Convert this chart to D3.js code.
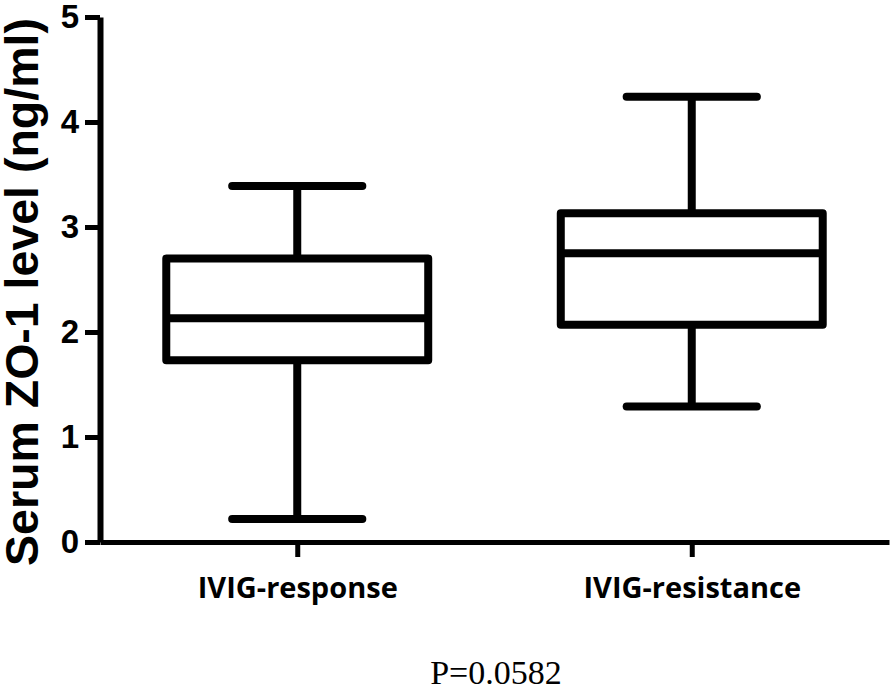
<!DOCTYPE html>
<html>
<head>
<meta charset="utf-8">
<script src="https://cdn.jsdelivr.net/npm/d3@7"></script>
<style>
  body { margin: 0; background: #fff; }
  svg { display: block; }
</style>
</head>
<body>
<div id="chart"></div>
<script>
// box summaries
const groups = ['IVIG-response', 'IVIG-resistance'];
const whiskerLow = [0.22, 1.29];
const q1 = [1.73, 2.07];
const medians = [2.13, 2.75];
const q3 = [2.70, 3.13];
const whiskerHigh = [3.39, 4.24];
const yTicks = [0, 1, 2, 3, 4, 5];
const pText = 'P=0.0582';

const W = 894, H = 689;
const svg = d3.select('#chart').append('svg')
    .attr('width', W)
    .attr('height', H);

const x = d3.scalePoint()
    .domain(groups)
    .range([100, 889])
    .padding(0.5);

const y = d3.scaleLinear()
    .domain([0, 5])
    .range([542, 17]);

const step = x.step();
const boxW = step * 0.664;
const capW = step * 0.33;

// y axis
const yAxis = svg.append('g')
    .attr('transform', 'translate(100,0)')
    .call(d3.axisLeft(y).tickValues(yTicks).tickSize(15).tickSizeOuter(0).tickPadding(6).tickFormat(d3.format('d')));
yAxis.select('.domain').attr('stroke-width', 6).attr('stroke', '#000');
yAxis.selectAll('.tick line').attr('stroke-width', 5).attr('stroke', '#000');
yAxis.selectAll('.tick text')
    .attr('font-family', 'Arial, "Liberation Sans", sans-serif')
    .attr('font-weight', 'bold')
    .attr('font-size', 33)
    .attr('fill', '#000');

// x axis
const xAxis = svg.append('g')
    .attr('transform', 'translate(0,542)')
    .call(d3.axisBottom(x).tickSize(15).tickSizeOuter(0).tickPadding(20));
xAxis.select('.domain').attr('stroke-width', 5).attr('stroke', '#000');
xAxis.selectAll('.tick line').attr('stroke-width', 5).attr('stroke', '#000');
xAxis.selectAll('.tick text')
    .attr('font-family', '"Open Sans", sans-serif')
    .attr('font-weight', 'bold')
    .attr('font-size', 29)
    .attr('fill', '#000');

// boxes
const data = groups.map((g, i) => ({
    g: g, lo: whiskerLow[i], q1: q1[i], med: medians[i], q3: q3[i], hi: whiskerHigh[i]
}));

const boxes = svg.append('g')
    .attr('stroke', '#000')
    .attr('stroke-width', 8)
    .attr('fill', 'none')
    .attr('stroke-linecap', 'round')
    .attr('stroke-linejoin', 'round')
    .selectAll('g')
    .data(data)
    .join('g');

// whisker stems
boxes.append('line')
    .attr('x1', d => x(d.g)).attr('x2', d => x(d.g))
    .attr('y1', d => y(d.hi)).attr('y2', d => y(d.q3))
    .attr('stroke-linecap', 'butt');
boxes.append('line')
    .attr('x1', d => x(d.g)).attr('x2', d => x(d.g))
    .attr('y1', d => y(d.q1)).attr('y2', d => y(d.lo))
    .attr('stroke-linecap', 'butt');

// caps
boxes.append('line')
    .attr('x1', d => x(d.g) - capW / 2).attr('x2', d => x(d.g) + capW / 2)
    .attr('y1', d => y(d.hi)).attr('y2', d => y(d.hi));
boxes.append('line')
    .attr('x1', d => x(d.g) - capW / 2).attr('x2', d => x(d.g) + capW / 2)
    .attr('y1', d => y(d.lo)).attr('y2', d => y(d.lo));

boxes.append('rect')
    .attr('x', d => x(d.g) - boxW / 2)
    .attr('width', boxW)
    .attr('y', d => y(d.q3))
    .attr('height', d => y(d.q1) - y(d.q3))
    .attr('fill', '#fff');

boxes.append('line')
    .attr('x1', d => x(d.g) - boxW / 2).attr('x2', d => x(d.g) + boxW / 2)
    .attr('y1', d => y(d.med)).attr('y2', d => y(d.med))
    .attr('stroke-linecap', 'butt');

// y title
svg.append('text')
    .attr('transform', 'translate(38,292) rotate(-90)')
    .attr('text-anchor', 'middle')
    .attr('font-family', 'Arial, "Liberation Sans", sans-serif')
    .attr('font-weight', 'bold')
    .attr('font-size', 46.5)
    .attr('fill', '#000')
    .text('Serum ZO-1 level (ng/ml)');

// p value
svg.append('text')
    .attr('x', 496)
    .attr('y', 684)
    .attr('text-anchor', 'middle')
    .attr('font-family', '"Times New Roman", "Liberation Serif", serif')
    .attr('font-size', 34)
    .attr('fill', '#000')
    .text(pText);
</script>
</body>
</html>
